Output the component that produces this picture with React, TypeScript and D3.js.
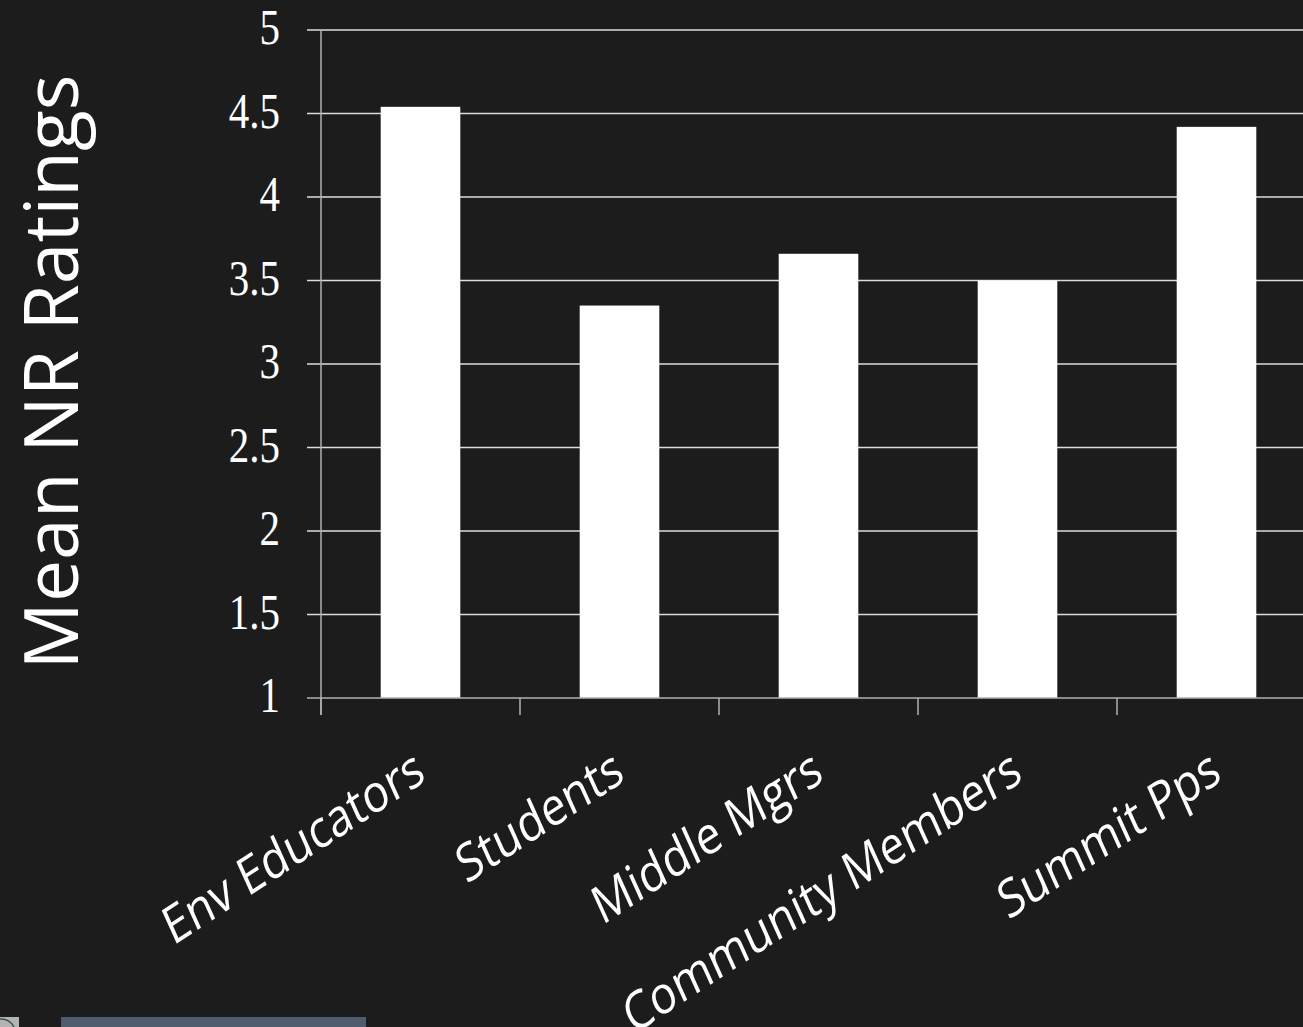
import React from "react";
import * as d3 from "d3";

const categories = ["Env Educators", "Students", "Middle Mgrs", "Community Members", "Summit Pps"];
const values = [4.54, 3.35, 3.66, 3.5, 4.42];
const yTicks = [1, 1.5, 2, 2.5, 3, 3.5, 4, 4.5, 5];
const yTickLabels = ["1", "1.5", "2", "2.5", "3", "3.5", "4", "4.5", "5"];
const yTitle = "Mean NR Ratings";

const W = 1303;
const H = 1027;
const BG = "#1c1c1c";

export default function App() {
  const x = d3.scaleBand<string>().domain(categories).range([321, 1316]).paddingInner(0.6).paddingOuter(0.3);
  const y = d3.scaleLinear().domain([1, 5]).range([698, 30]);
  const step = x.step();
  const x0 = 321;
  const boundaries = d3.range(categories.length + 1).map((i) => x0 + i * step);

  return (
    <svg width={W} height={H} style={{ position: "absolute", left: 0, top: 0, display: "block" }}>
      <rect x={0} y={0} width={W} height={H} fill={BG} />
      {/* gridlines */}
      {yTicks.filter((t) => t !== 1).map((t) => (
        <line key={"g" + t} x1={307} x2={W} y1={y(t)} y2={y(t)} stroke="#dcdcdc" strokeWidth={1.5} />
      ))}
      {/* bars */}
      {categories.map((c, i) => (
        <rect key={c} x={x(c)} y={y(values[i])} width={x.bandwidth()} height={y(1) - y(values[i])} fill="#ffffff" />
      ))}
      {/* axes */}
      <line x1={x0} x2={x0} y1={y(5)} y2={715} stroke="#b0b0b0" strokeWidth={1.5} />
      <line x1={307} x2={W} y1={y(1)} y2={y(1)} stroke="#b0b0b0" strokeWidth={1.5} />
      {boundaries.map((b, i) => (
        <line key={"xt" + i} x1={b} x2={b} y1={y(1)} y2={715} stroke="#b0b0b0" strokeWidth={1.5} />
      ))}
      {/* y tick labels */}
      {yTicks.map((t, i) => (
        <text
          key={"yl" + t}
          transform={`translate(280,${y(t) + 14}) scale(1,1.22)`}
          textAnchor="end"
          fontFamily="'Liberation Serif', 'Times New Roman', serif"
          fontSize={41}
          fill="#ffffff"
        >
          {yTickLabels[i]}
        </text>
      ))}
      {/* x labels */}
      {categories.map((c) => (
        <text
          key={"xl" + c}
          transform={`translate(${(x(c) as number) + x.bandwidth() / 2 + 7},780) scale(1,1.2) rotate(-28.5)`}
          textAnchor="end"
          fontFamily="'Open Sans', sans-serif"
          fontSize={44}
          fill="#ffffff"
        >
          {c}
        </text>
      ))}
      {/* y title */}
      <text
        transform={`translate(78,372) rotate(-90)`}
        textAnchor="middle"
        fontFamily="'Open Sans', sans-serif"
        fontSize={75}
        fill="#ffffff"
      >
        {yTitle}
      </text>
      {/* bottom decorations */}
      <rect x={0} y={1017} width={19} height={10} fill="#b4b4b4" />
      <path d="M0,1019 A14,14 0 0 1 14,1027" fill="none" stroke="#2f5a4a" strokeWidth={1.5} />
      <rect x={61} y={1017} width={305} height={10} fill="#4f5d6e" />
    </svg>
  );
}
